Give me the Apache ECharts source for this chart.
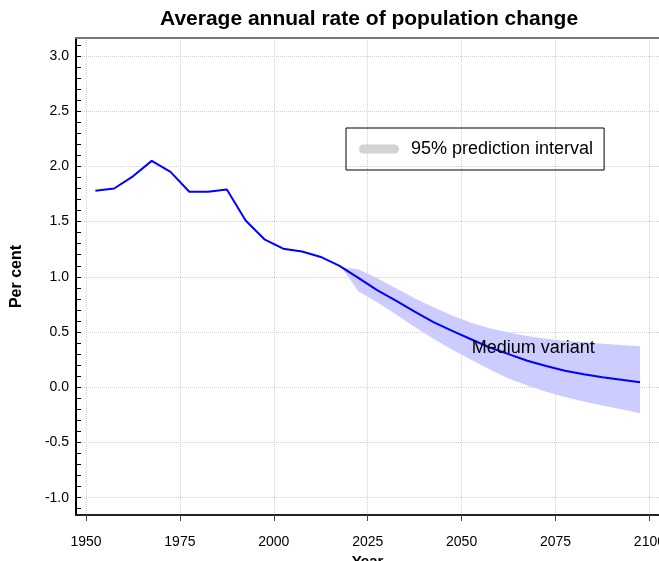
<!DOCTYPE html>
<html>
<head>
<meta charset="utf-8">
<script src="https://cdn.jsdelivr.net/npm/echarts@6/dist/echarts.min.js"></script>
<style>
  html, body { margin: 0; padding: 0; background: #fff; }
  #chart { width: 659px; height: 561px; }
</style>
</head>
<body>
<div id="chart"></div>
<script>
// medium variant, 5-year period midpoints
var years = [1952.5, 1957.5, 1962.5, 1967.5, 1972.5, 1977.5, 1982.5, 1987.5, 1992.5, 1997.5,
             2002.5, 2007.5, 2012.5, 2017.5, 2022.5, 2027.5, 2032.5, 2037.5, 2042.5, 2047.5,
             2052.5, 2057.5, 2062.5, 2067.5, 2072.5, 2077.5, 2082.5, 2087.5, 2092.5, 2097.5];
var medium = [1.78, 1.80, 1.91, 2.05, 1.95, 1.77, 1.77, 1.79, 1.51, 1.34,
              1.255, 1.23, 1.18, 1.10, 0.99, 0.88, 0.785, 0.685, 0.59, 0.51,
              0.435, 0.36, 0.30, 0.24, 0.193, 0.15, 0.118, 0.09, 0.068, 0.045];

// 95% prediction interval
var bandYears = [2018, 2022.5, 2027.5, 2032.5, 2037.5, 2042.5, 2047.5, 2052.5, 2057.5,
                 2062.5, 2067.5, 2072.5, 2077.5, 2082.5, 2087.5, 2092.5, 2097.5];
var bandUpper = [1.087, 1.068, 0.987, 0.897, 0.806, 0.725, 0.65, 0.585, 0.534,
                 0.495, 0.465, 0.44, 0.422, 0.41, 0.395, 0.383, 0.371];
var bandLower = [1.087, 0.87, 0.77, 0.66, 0.545, 0.44, 0.34, 0.25, 0.16,
                 0.08, 0.015, -0.04, -0.088, -0.13, -0.165, -0.2, -0.236];

var xTicks = [1950, 1975, 2000, 2025, 2050, 2075, 2100];
var yTicks = [-1, -0.5, 0, 0.5, 1, 1.5, 2, 2.5, 3];
var yMinorTicks = [];
for (var i = -11; i <= 31; i++) yMinorTicks.push(i / 10);

var labelMedium = { name: 'Medium variant', year: 2052.7, value: 0.353 };

var xMin = 1947.34, xMax = 2102.55;
var yMin = -1.157, yMax = 3.163;

var mychart = echarts.init(document.getElementById('chart'));

var option = {
  animation: false,
  textStyle: { fontFamily: 'Liberation Sans, Arial, sans-serif' },
  title: {
    text: 'Average annual rate of population change',
    left: 160,
    top: 9,
    padding: 0,
    textStyle: { fontSize: 21, fontWeight: 'bold', color: '#000' }
  },
  legend: {
    left: 346,
    top: 128,
    orient: 'horizontal',
    padding: [12, 11, 12, 13],
    borderColor: '#000',
    borderWidth: 1,
    itemWidth: 40,
    itemHeight: 9,
    selectedMode: false,
    textStyle: { fontSize: 18, color: '#000', padding: [0, 0, 0, 7] },
    data: [{
      name: '95% prediction interval',
      icon: 'path://M4.5,0 L35.5,0 A4.5,4.5 0 0 1 35.5,9 L4.5,9 A4.5,4.5 0 0 1 4.5,0 Z',
      itemStyle: { color: '#d3d3d3', borderWidth: 0 }
    }]
  },
  grid: { left: 76, right: 0, top: 38, bottom: 46, containLabel: false, outerBoundsMode: 'none' },
  xAxis: [{
    type: 'value',
    min: xMin,
    max: xMax,
    name: 'Year',
    nameLocation: 'middle',
    nameGap: 35,
    nameTextStyle: { fontSize: 15, fontWeight: 'bold', color: '#000' },
    axisLine: { show: true, onZero: false, lineStyle: { color: '#222', width: 2 } },
    axisTick: { show: true, inside: false, length: 6, customValues: xTicks, lineStyle: { color: '#444' } },
    axisLabel: { customValues: xTicks, margin: 20, fontSize: 14, color: '#000', formatter: function (v) { return String(Math.round(v)); } },
    splitLine: { show: true, lineStyle: { color: '#d0d0d0', type: 'dotted', width: 1 } }
  }, {
    type: 'value',
    position: 'top',
    min: xMin,
    max: xMax,
    axisLine: { show: true, onZero: false, lineStyle: { color: '#777', width: 2 } },
    axisTick: { show: false },
    axisLabel: { show: false },
    splitLine: { show: false }
  }],
  yAxis: [{
    type: 'value',
    min: yMin,
    max: yMax,
    name: 'Per cent',
    nameLocation: 'middle',
    nameGap: 51,
    nameTextStyle: { fontSize: 16, fontWeight: 'bold', color: '#000' },
    axisLine: { show: true, onZero: false, lineStyle: { color: '#000', width: 2 } },
    axisTick: { show: true, inside: true, length: 5, customValues: yTicks, lineStyle: { color: '#000' } },
    axisLabel: { customValues: yTicks, margin: 7, fontSize: 14, color: '#000', formatter: function (v) { return v.toFixed(1); } },
    splitLine: { show: true, lineStyle: { color: '#d0d0d0', type: 'dotted', width: 1 } }
  }, {
    type: 'value',
    position: 'left',
    min: yMin,
    max: yMax,
    axisLine: { show: false },
    axisTick: { show: true, inside: true, length: 5, customValues: yMinorTicks, lineStyle: { color: '#000' } },
    axisLabel: { show: false },
    splitLine: { show: false }
  }],
  series: [{
    name: '95% prediction interval',
    type: 'custom',
    z: 1,
    clip: true,
    itemStyle: { color: '#ccccff' },
    renderItem: function (params, api) {
      var pts = [];
      for (var i = 0; i < bandYears.length; i++) pts.push(api.coord([bandYears[i], bandUpper[i]]));
      for (var j = bandYears.length - 1; j >= 0; j--) pts.push(api.coord([bandYears[j], bandLower[j]]));
      return { type: 'polygon', shape: { points: pts }, style: { fill: '#ccccff' } };
    },
    data: [[bandYears[0], bandUpper[0]]]
  }, {
    name: 'Medium variant',
    type: 'line',
    z: 3,
    symbol: 'none',
    lineStyle: { color: '#0000ff', width: 2 },
    data: years.map(function (y, i) { return [y, medium[i]]; }),
    markPoint: {
      symbol: 'circle',
      symbolSize: 0,
      data: [{ coord: [labelMedium.year, labelMedium.value] }],
      label: {
        show: true,
        position: 'inside',
        align: 'left',
        verticalAlign: 'middle',
        formatter: labelMedium.name,
        fontSize: 18,
        color: '#000'
      }
    }
  }]
};
mychart.setOption(option);
</script>
</body>
</html>
